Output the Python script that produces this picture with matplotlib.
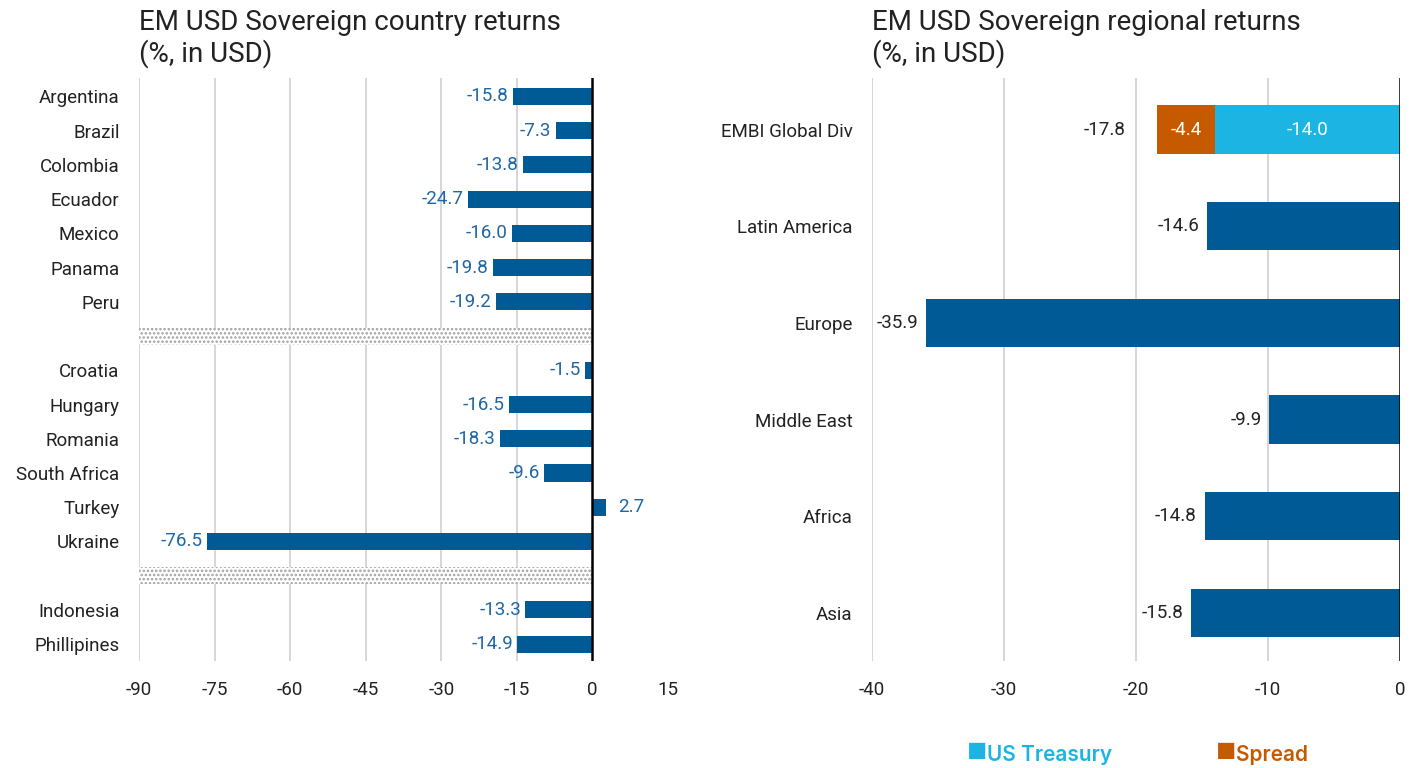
import matplotlib
matplotlib.use("Agg")
import matplotlib.pyplot as plt

plt.rcParams['font.family'] = ['Roboto', 'DejaVu Sans']
plt.rcParams['hatch.linewidth'] = 1.2

# 左图：国家回报
countries = ["Argentina", "Brazil", "Colombia", "Ecuador", "Mexico", "Panama", "Peru", "",
             "Croatia", "Hungary", "Romania", "South Africa", "Turkey", "Ukraine", "",
             "Indonesia", "Phillipines"]
country_returns = [-15.8, -7.3, -13.8, -24.7, -16.0, -19.8, -19.2, None,
                   -1.5, -16.5, -18.3, -9.6, 2.7, -76.5, None,
                   -13.3, -14.9]
left_ticks = [-90, -75, -60, -45, -30, -15, 0, 15]

# 右图：地区回报
regions = ["EMBI Global Div", "Latin America", "Europe", "Middle East", "Africa", "Asia"]
region_returns = [-17.8, -14.6, -35.9, -9.9, -14.8, -15.8]
embi_treasury = -14.0
embi_spread = -4.4
right_ticks = [-40, -30, -20, -10, 0]

NAVY = "#005a96"
LABEL_BLUE = "#1f66a3"
CYAN = "#1cb5e3"
ORANGE = "#c55a00"
GRID = "#d0d0d0"
FS = 13.5

fig = plt.figure(figsize=(14.16, 7.68), dpi=100)
ax1 = fig.add_axes([0.0982, 0.139, 0.3736, 0.759])
ax2 = fig.add_axes([0.6158, 0.139, 0.3729, 0.759])

# ---- 左图 ----
for i, v in enumerate(country_returns):
    if v is None:
        # 分隔带（点状阴影）
        ax1.barh(i, -90, height=0.5, color="white", edgecolor="#a0a0a0",
                 hatch="....", linewidth=0, zorder=1)
        continue
    ax1.barh(i, v, height=0.5, color=NAVY, zorder=3)
    if v < 0:
        ax1.text(v - 0.9, i, f"{v:.1f}", ha="right", va="center",
                 color=LABEL_BLUE, fontsize=FS)
    else:
        ax1.text(v + 2.3, i, f"{v:.1f}", ha="left", va="center",
                 color=LABEL_BLUE, fontsize=FS)

ax1.set_xlim(-90, 15)
ax1.set_ylim(16.5, -0.53)
ax1.set_xticks(left_ticks)
ax1.set_xticklabels([str(t) for t in left_ticks])
for t in left_ticks[:-2]:
    ax1.axvline(t, color=GRID, lw=1.2, zorder=0)
ax1.axvline(0, color="black", lw=1.8, zorder=4)
ax1.set_yticks(range(len(countries)))
ax1.set_yticklabels(countries)

# ---- 右图 ----
for i, v in enumerate(region_returns):
    if i == 0:
        ax2.barh(i, embi_treasury, height=0.5, color=CYAN, zorder=3)
        ax2.barh(i, embi_spread, left=embi_treasury, height=0.5, color=ORANGE, zorder=3)
        ax2.text(embi_treasury / 2, i, f"{embi_treasury:.1f}", ha="center", va="center",
                 color="white", fontsize=FS)
        ax2.text(embi_treasury + embi_spread / 2, i, f"{embi_spread:.1f}", ha="center",
                 va="center", color="white", fontsize=FS)
        ax2.text(embi_treasury + embi_spread - 2.4, i, f"{v:.1f}", ha="right",
                 va="center", color="#222222", fontsize=FS)
    else:
        ax2.barh(i, v, height=0.5, color=NAVY, zorder=3)
        ax2.text(v - 0.6, i, f"{v:.1f}", ha="right", va="center",
                 color="#222222", fontsize=FS)

ax2.set_xlim(-40, 0)
ax2.set_ylim(5.5, -0.53)
ax2.set_xticks(right_ticks)
ax2.set_xticklabels([str(t) for t in right_ticks])
for t in right_ticks[:-1]:
    ax2.axvline(t, color=GRID, lw=1.2, zorder=0)
ax2.axvline(0, color="black", lw=1.8, zorder=4)
ax2.set_yticks(range(len(regions)))
ax2.set_yticklabels(regions)

for ax in (ax1, ax2):
    for s in ax.spines.values():
        s.set_visible(False)
    ax.tick_params(axis="both", length=0, labelsize=FS, colors="#222222")
    ax.tick_params(axis="y", pad=14)
    ax.tick_params(axis="x", pad=14)

fig.text(0.0982, 0.988, "EM USD Sovereign country returns\n(%, in USD)",
         ha="left", va="top", fontsize=20, color="#222222", linespacing=1.15)
fig.text(0.6158, 0.988, "EM USD Sovereign regional returns\n(%, in USD)",
         ha="left", va="top", fontsize=20, color="#222222", linespacing=1.15)

# 图例
leg_font = ['Inter', 'DejaVu Sans']
fig.text(0.683, 0.006, "■", color=CYAN, fontsize=16, ha="left", va="bottom", family=leg_font)
fig.text(0.697, 0.004, "US Treasury", color=CYAN, fontsize=15, ha="left", va="bottom",
         family=leg_font, weight="semibold")
fig.text(0.859, 0.006, "■", color=ORANGE, fontsize=16, ha="left", va="bottom", family=leg_font)
fig.text(0.873, 0.004, "Spread", color=ORANGE, fontsize=15, ha="left", va="bottom",
         family=leg_font, weight="semibold")

fig.savefig("out.png", dpi=100)
